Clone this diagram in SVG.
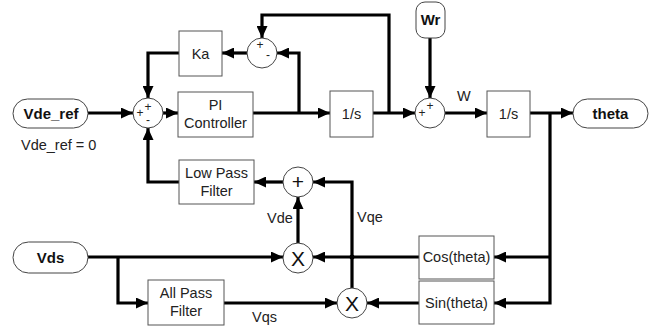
<svg xmlns="http://www.w3.org/2000/svg" width="658" height="329" viewBox="0 0 658 329">
<defs>
<marker id="ah" markerUnits="userSpaceOnUse" markerWidth="12" markerHeight="11" refX="12" refY="5.5" orient="auto">
<path d="M0,0 L12,5.5 L0,11 z" fill="#000"/>
</marker>
<style>
.box{fill:#fff;stroke:#555;stroke-width:1}
.pill{fill:#fff;stroke:#444;stroke-width:1}
.circ{fill:#fff;stroke:#444;stroke-width:1}
.t{font-family:"Liberation Sans",Arial,sans-serif;font-size:14.5px;fill:#222;text-anchor:middle}
.tb{font-family:"Liberation Sans",Arial,sans-serif;font-size:15px;font-weight:bold;fill:#111;text-anchor:middle}
.lbl{font-family:"Liberation Sans",Arial,sans-serif;font-size:14.5px;fill:#222}
.sg{font-family:"Liberation Sans",Arial,sans-serif;font-size:12px;fill:#222;text-anchor:middle}
.big{font-family:"Liberation Sans",Arial,sans-serif;font-size:21px;fill:#111;text-anchor:middle}
.c{fill:none;stroke:#000;stroke-width:3.2}
.a{marker-end:url(#ah)}
</style>
</defs>
<rect width="658" height="329" fill="#fff"/>
<g id="connectors">
<path class="c a" d="M88,113 H133"/>
<path class="c a" d="M163,113 H178"/>
<path class="c a" d="M253,113 H330"/>
<path class="c a" d="M299,113 V53 H277"/>
<path class="c a" d="M389,113 V15 H262 V38"/>
<path class="c a" d="M247,53 H222"/>
<path class="c a" d="M179,53 H148 V98"/>
<path class="c a" d="M179,182 H148 V128"/>
<path class="c a" d="M373,113 H415"/>
<path class="c a" d="M430,38 V98"/>
<path class="c a" d="M445,113 H487"/>
<path class="c a" d="M530,113 H573"/>
<path class="c a" d="M550,113 V303 H494"/>
<path class="c a" d="M550,257 H494"/>
<path class="c a" d="M419,257 H313"/>
<path class="c a" d="M419,303 H367"/>
<path class="c a" d="M298,243 V197"/>
<path class="c a" d="M352,288 V182 H313"/>
<path class="c a" d="M283,182 H254"/>
<path class="c a" d="M88,257 H283"/>
<path class="c a" d="M118,257 V303 H148"/>
<path class="c a" d="M224,303 H337"/>
<circle cx="352" cy="257" r="2.5" fill="#000"/>
<text class="lbl" x="457" y="101">W</text>
<text class="lbl" x="267" y="223">Vde</text>
<text class="lbl" x="357" y="222">Vqe</text>
<text class="lbl" x="252" y="322">Vqs</text>
</g>
<g id="vde_ref">
<rect class="pill" x="13" y="99" width="75" height="29" rx="14.5"/>
<text class="tb" x="51" y="119">Vde_ref</text>
<text class="lbl" x="21" y="150">Vde_ref = 0</text>
</g>
<g id="sum1">
<circle class="circ" cx="148" cy="113" r="15"/>
<text class="sg" x="148" y="111">+</text>
<text class="sg" x="140" y="117">+</text>
<text class="sg" x="148" y="124">-</text>
</g>
<g id="sum_upper">
<circle class="circ" cx="262" cy="53" r="15"/>
<text class="sg" x="260" y="49">+</text>
<text class="sg" x="268" y="59">-</text>
</g>
<g id="ka">
<rect class="box" x="179" y="31" width="43" height="45"/>
<text class="t" x="200.5" y="59">Ka</text>
</g>
<g id="pi">
<rect class="box" x="178" y="92" width="75" height="45"/>
<text class="t" x="215.5" y="110">PI</text>
<text class="t" x="215.5" y="128">Controller</text>
</g>
<g id="int1">
<rect class="box" x="330" y="91" width="43" height="46"/>
<text class="t" x="351.5" y="119">1/s</text>
</g>
<g id="wr">
<rect class="pill" x="416" y="2" width="29" height="36" rx="9"/>
<text class="tb" x="430.5" y="25">Wr</text>
</g>
<g id="sum2">
<circle class="circ" cx="430" cy="113" r="15"/>
<text class="sg" x="422" y="117">+</text>
<text class="sg" x="430" y="110">+</text>
</g>
<g id="int2">
<rect class="box" x="487" y="91" width="43" height="46"/>
<text class="t" x="508.5" y="119">1/s</text>
</g>
<g id="theta">
<rect class="pill" x="573" y="99" width="75" height="29" rx="14.5"/>
<text class="tb" x="610.5" y="119">theta</text>
</g>
<g id="lpf">
<rect class="box" x="179" y="160" width="75" height="44"/>
<text class="t" x="216.5" y="178">Low Pass</text>
<text class="t" x="216.5" y="196">Filter</text>
</g>
<g id="plus">
<circle class="circ" cx="298" cy="182" r="15"/>
<text class="big" x="298" y="189">+</text>
</g>
<g id="mult1">
<circle class="circ" cx="298" cy="258" r="15"/>
<text class="big" x="298" y="265.5">X</text>
</g>
<g id="mult2">
<circle class="circ" cx="352" cy="303" r="15"/>
<text class="big" x="352" y="310.5">X</text>
</g>
<g id="vds">
<rect class="pill" x="13" y="242" width="75" height="31" rx="15.5"/>
<text class="tb" x="50.5" y="263">Vds</text>
</g>
<g id="apf">
<rect class="box" x="148" y="280" width="76" height="45"/>
<text class="t" x="186" y="298">All Pass</text>
<text class="t" x="186" y="316">Filter</text>
</g>
<g id="cos">
<rect class="box" x="419" y="236" width="75" height="43"/>
<text class="t" x="456.5" y="262">Cos(theta)</text>
</g>
<g id="sin">
<rect class="box" x="419" y="281" width="75" height="43"/>
<text class="t" x="456.5" y="308">Sin(theta)</text>
</g>
</svg>
